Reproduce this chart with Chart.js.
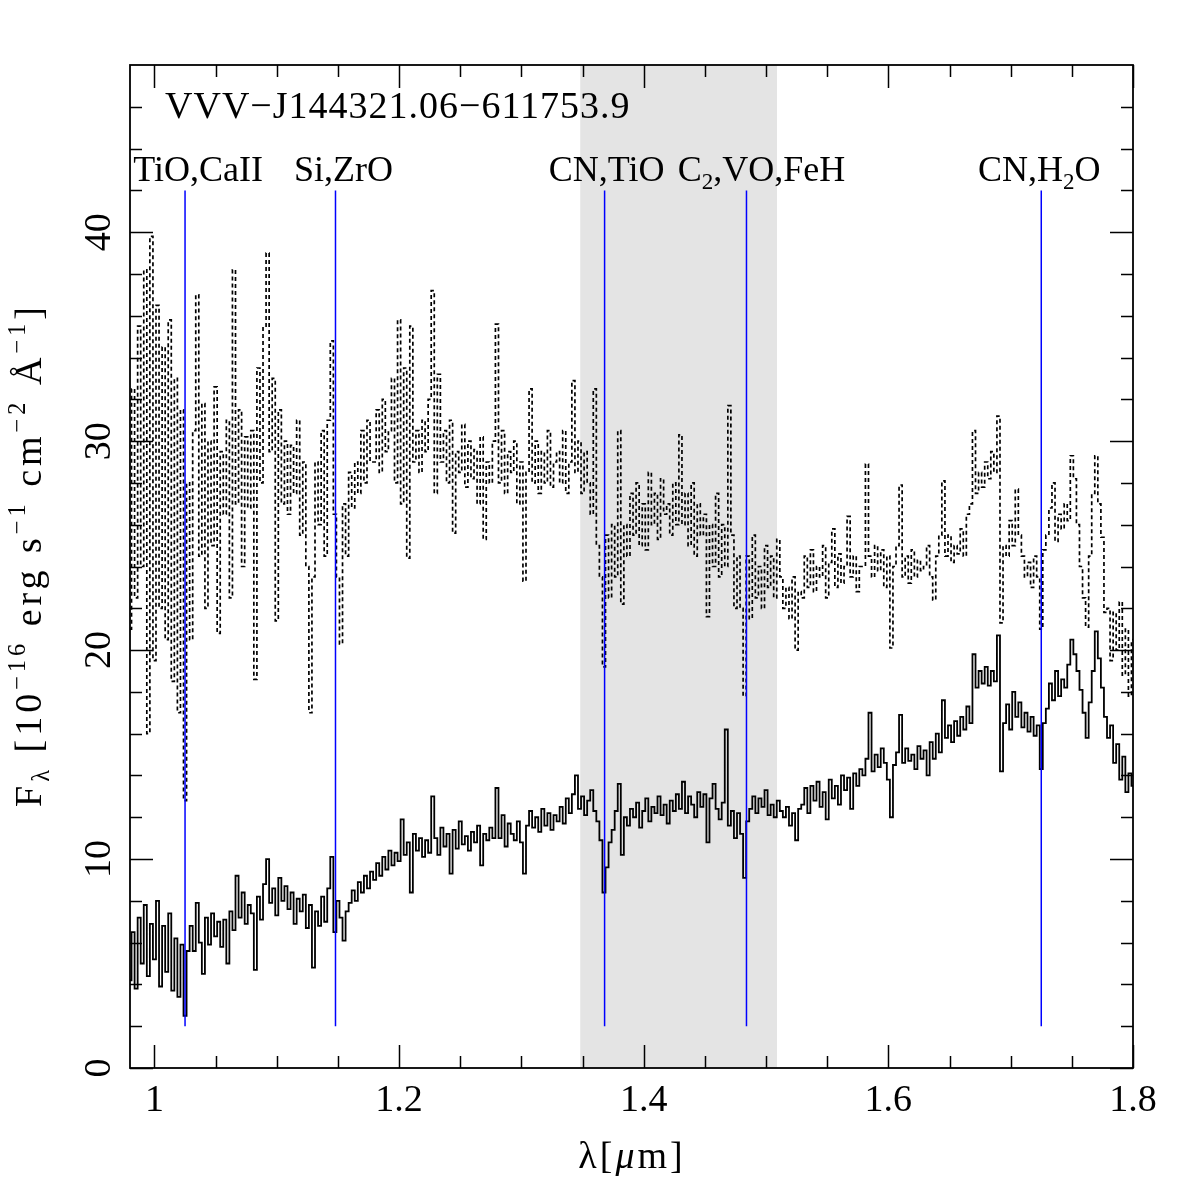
<!DOCTYPE html>
<html><head><meta charset="utf-8">
<script src="https://cdn.jsdelivr.net/npm/chart.js@4/dist/chart.umd.min.js"></script>
<style>html,body{margin:0;padding:0;background:#fff;}canvas{display:block;}</style>
</head><body>
<canvas id="c" width="1196" height="1196"></canvas>
<script>
// wavelength grid [micron]
const wavelength = [
0.98,0.9825,0.985,0.9875,0.99,0.9925,0.995,0.9975,1.0,1.0025,1.005,1.0075,1.01,1.0125,1.015,1.0175,1.02,1.0225,1.025,1.0275,
1.03,1.0325,1.035,1.0375,1.04,1.0425,1.045,1.0475,1.05,1.0525,1.055,1.0575,1.06,1.0625,1.065,1.0675,1.07,1.0725,1.075,1.0775,
1.08,1.0825,1.085,1.0875,1.09,1.0925,1.095,1.0975,1.1,1.1025,1.105,1.1075,1.11,1.1125,1.115,1.1175,1.12,1.1225,1.125,1.1275,
1.13,1.1325,1.135,1.1375,1.14,1.1425,1.145,1.1475,1.15,1.1525,1.155,1.1575,1.16,1.1625,1.165,1.1675,1.17,1.1725,1.175,1.1775,
1.18,1.1825,1.185,1.1875,1.19,1.1925,1.195,1.1975,1.2,1.2025,1.205,1.2075,1.21,1.2125,1.215,1.2175,1.22,1.2225,1.225,1.2275,
1.23,1.2325,1.235,1.2375,1.24,1.2425,1.245,1.2475,1.25,1.2525,1.255,1.2575,1.26,1.2625,1.265,1.2675,1.27,1.2725,1.275,1.2775,
1.28,1.2825,1.285,1.2875,1.29,1.2925,1.295,1.2975,1.3,1.3025,1.305,1.3075,1.31,1.3125,1.315,1.3175,1.32,1.3225,1.325,1.3275,
1.33,1.3325,1.335,1.3375,1.34,1.3425,1.345,1.3475,1.35,1.3525,1.355,1.3575,1.36,1.3625,1.365,1.3675,1.37,1.3725,1.375,1.3775,
1.38,1.3825,1.385,1.3875,1.39,1.3925,1.395,1.3975,1.4,1.4025,1.405,1.4075,1.41,1.4125,1.415,1.4175,1.42,1.4225,1.425,1.4275,
1.43,1.4325,1.435,1.4375,1.44,1.4425,1.445,1.4475,1.45,1.4525,1.455,1.4575,1.46,1.4625,1.465,1.4675,1.47,1.4725,1.475,1.4775,
1.48,1.4825,1.485,1.4875,1.49,1.4925,1.495,1.4975,1.5,1.5025,1.505,1.5075,1.51,1.5125,1.515,1.5175,1.52,1.5225,1.525,1.5275,
1.53,1.5325,1.535,1.5375,1.54,1.5425,1.545,1.5475,1.55,1.5525,1.555,1.5575,1.56,1.5625,1.565,1.5675,1.57,1.5725,1.575,1.5775,
1.58,1.5825,1.585,1.5875,1.59,1.5925,1.595,1.5975,1.6,1.6025,1.605,1.6075,1.61,1.6125,1.615,1.6175,1.62,1.6225,1.625,1.6275,
1.63,1.6325,1.635,1.6375,1.64,1.6425,1.645,1.6475,1.65,1.6525,1.655,1.6575,1.66,1.6625,1.665,1.6675,1.67,1.6725,1.675,1.6775,
1.68,1.6825,1.685,1.6875,1.69,1.6925,1.695,1.6975,1.7,1.7025,1.705,1.7075,1.71,1.7125,1.715,1.7175,1.72,1.7225,1.725,1.7275,
1.73,1.7325,1.735,1.7375,1.74,1.7425,1.745,1.7475,1.75,1.7525,1.755,1.7575,1.76,1.7625,1.765,1.7675,1.77,1.7725,1.775,1.7775,
1.78,1.7825,1.785,1.7875,1.79,1.7925,1.795,1.7975,1.8
];
// observed flux (solid line)
const fluxSolid = [
4.2,6.5,3.8,7.2,5.0,7.8,4.4,6.9,5.2,8.0,3.9,6.8,4.6,7.4,3.7,6.2,3.4,5.9,2.5,5.6,
6.8,5.6,7.9,6.0,4.5,7.2,5.9,7.4,6.3,7.0,5.8,7.1,5.0,7.5,6.6,9.2,7.2,8.4,6.9,7.8,
7.4,4.7,8.2,7.1,8.8,10.0,7.9,8.6,7.3,9.1,8.0,8.7,7.6,8.4,6.9,8.1,7.5,8.3,6.7,7.8,
4.8,7.5,6.8,8.2,7.0,8.6,10.1,6.5,8.0,7.2,6.1,7.5,7.9,8.5,8.0,8.9,8.4,9.2,8.6,9.4,
9.0,9.8,9.2,10.1,9.5,10.4,9.7,10.3,9.9,11.9,10.2,10.8,8.4,11.2,10.4,11.0,10.1,10.9,10.3,13.0,
11.0,10.2,11.5,10.6,11.2,9.3,11.4,10.5,11.8,10.7,11.1,10.4,11.3,10.8,11.6,9.7,11.2,10.9,11.5,11.0,
13.4,11.0,12.1,10.6,11.7,11.2,10.9,11.8,10.8,9.3,11.6,12.3,11.5,12.0,11.3,12.4,11.6,12.2,11.4,12.1,
11.8,12.5,11.7,12.9,12.2,13.1,14.0,12.4,13.0,12.1,12.8,13.3,12.3,11.8,10.9,8.4,9.6,10.8,11.4,12.3,
13.6,10.2,12.0,11.6,12.4,12.0,12.7,11.5,12.3,12.9,11.8,12.5,12.2,13.0,12.1,12.6,11.7,12.8,12.3,13.1,
12.4,13.7,12.2,13.0,12.6,12.0,13.2,12.5,13.1,10.8,12.9,13.6,12.4,11.9,12.7,16.2,11.6,12.3,11.0,12.2,
11.2,9.1,11.8,12.4,13.0,12.2,12.9,12.5,13.3,12.1,12.6,12.0,12.8,12.3,12.0,12.5,11.6,12.2,10.9,12.4,
12.6,13.4,12.2,13.5,12.8,13.7,12.5,13.2,11.9,13.8,12.9,13.5,12.6,14.0,13.3,13.9,12.4,14.1,13.5,14.3,
14.0,14.8,17.0,14.2,15.0,14.4,15.3,14.6,13.8,12.0,14.5,15.1,16.9,14.6,15.3,14.7,15.0,14.3,15.4,14.8,
15.2,14.0,15.6,14.8,16.0,15.1,17.6,15.8,16.4,15.6,16.6,15.9,16.8,16.2,17.3,16.5,19.8,18.2,19.0,18.4,
19.2,18.3,19.0,18.5,20.7,14.2,16.5,17.4,16.2,18.0,16.8,17.5,16.3,17.0,16.1,16.8,15.9,16.4,14.3,16.5,
17.2,18.4,17.6,19.0,17.8,18.6,18.2,19.3,20.5,19.8,19.0,18.1,17.0,15.8,17.5,19.0,20.9,19.6,18.2,16.8,
15.8,16.4,14.6,15.5,13.8,14.9,13.2,14.1,13.5
];
// dereddened flux (dashed line)
const fluxDotted = [
21.0,32.5,22.5,35.5,24.0,38.2,16.0,39.8,19.5,36.5,22.0,34.5,20.5,35.8,18.5,33.0,17.0,31.5,12.8,28.0,
20.5,30.5,37.0,24.5,31.8,22.0,30.0,25.0,32.6,20.8,29.5,26.5,31.0,22.5,38.2,27.0,31.5,24.0,30.2,26.8,
30.5,18.6,33.5,28.0,35.5,39.0,29.5,33.0,21.4,31.5,27.0,30.0,26.5,29.8,27.5,31.0,25.5,29.0,24.0,17.0,
23.5,29.0,26.0,30.5,24.5,31.0,34.8,26.5,23.5,20.3,27.0,24.5,28.5,26.8,29.0,27.5,30.5,28.0,31.0,29.0,
29.0,31.5,28.5,32.0,29.5,30.5,33.0,28.0,35.8,27.0,33.5,24.4,35.5,29.0,30.5,28.5,31.0,29.5,32.0,37.2,
27.5,33.2,29.0,30.5,28.0,31.0,25.6,29.5,28.5,30.8,27.8,30.0,28.2,29.6,27.0,30.2,25.3,29.0,28.0,30.0,
35.6,28.0,30.5,27.5,29.5,28.5,30.0,27.0,29.0,23.3,28.5,32.5,28.0,30.0,27.5,29.5,28.0,30.5,27.8,29.0,
29.5,28.0,30.5,27.5,29.0,32.9,28.5,30.0,27.5,29.5,28.0,26.5,32.5,25.0,23.5,19.2,25.5,22.5,26.0,23.5,
30.5,22.2,26.0,24.5,27.5,25.5,28.0,25.0,27.0,24.8,28.5,26.0,27.5,25.3,28.2,26.5,27.0,25.5,28.0,26.0,
30.3,26.0,27.5,25.0,28.0,24.5,27.0,25.5,26.5,21.6,26.0,24.0,27.5,23.5,26.0,24.0,31.7,25.5,22.0,24.5,
22.0,17.8,24.5,21.5,25.5,22.5,24.0,22.0,25.0,23.0,24.5,22.5,25.3,23.5,22.0,23.0,21.5,23.5,20.0,22.8,
22.5,24.5,23.0,24.8,22.8,24.0,23.5,25.0,22.5,24.2,25.8,23.0,24.6,23.2,24.0,26.4,23.5,24.5,22.8,24.0,
24.0,28.9,24.5,23.5,25.0,23.8,24.8,23.0,24.5,20.1,24.0,25.0,27.9,23.5,24.5,23.2,24.8,23.5,24.3,23.8,
24.0,25.0,23.5,22.4,24.5,25.5,28.1,24.5,25.5,24.2,25.0,24.6,25.8,24.5,26.5,27.0,30.5,27.5,28.5,27.8,
29.0,28.2,29.5,28.5,31.2,21.3,25.0,24.5,26.2,25.0,27.7,25.5,24.5,23.5,24.2,23.0,24.5,23.5,21.0,24.8,
25.5,26.8,28.0,25.2,26.5,25.8,27.0,26.2,29.3,28.2,26.0,24.0,22.5,21.1,24.5,27.5,29.3,27.0,25.4,21.8,
22.0,19.5,21.8,20.0,22.3,18.8,21.0,17.8,20.5
];
const featureNames = [
  [{t:'TiO,CaII'}],
  [{t:'Si,ZrO'}],
  [{t:'CN,TiO'}],
  [{t:'C'},{t:'2',sub:true},{t:',VO,FeH'}],
  [{t:'CN,H'},{t:'2',sub:true},{t:'O'}]
];
const featureWavelengths = [1.025, 1.148, 1.368, 1.484, 1.725];
const featureSpan = [2, 42];
const shadedBand = [1.348, 1.509];
const xTickLabels = [1.0, 1.2, 1.4, 1.6, 1.8];
const yTickLabels = [0, 10, 20, 30, 40];
const objectName = 'VVV\u2212J144321.06\u2212611753.9';

const SERIF = '"Liberation Serif","DejaVu Serif",serif';

function richWidth(ctx, parts, size){
  let w = 0;
  for (const p of parts){
    const s = p.sup || p.sub ? size*0.64 : size;
    ctx.font = (p.italic?'italic ':'') + s + 'px ' + SERIF;
    w += ctx.measureText(p.t).width;
  }
  return w;
}
function drawRich(ctx, parts, x, y, size){
  let cx = x;
  for (const p of parts){
    const s = p.sup || p.sub ? size*0.64 : size;
    ctx.font = (p.italic?'italic ':'') + s + 'px ' + SERIF;
    const dy = p.sup ? -size*0.42 : (p.sub ? size*0.22 : 0);
    ctx.fillText(p.t, cx, y + dy);
    cx += ctx.measureText(p.t).width;
  }
}

const decor = {
  id: 'decor',
  afterDraw(chart){
    const {ctx, chartArea:a, scales:{x, y}} = chart;
    ctx.save();
    ctx.strokeStyle = '#000';
    ctx.fillStyle = '#000';
    ctx.lineWidth = 1.5;
    ctx.beginPath();
    for (let k = 0; k <= 16; k++){
      const v = 1.0 + 0.05*k;
      const px = Math.round(x.getPixelForValue(v)) + 0.5;
      const L = (k % 4 === 0) ? 23 : 12;
      ctx.moveTo(px, a.bottom); ctx.lineTo(px, a.bottom - L);
      ctx.moveTo(px, a.top); ctx.lineTo(px, a.top + L);
    }
    for (let v = 0; v < 48; v += 2){
      const py = Math.round(y.getPixelForValue(v)) + 0.5;
      const L = (v % 10 === 0) ? 23 : 12;
      ctx.moveTo(a.left, py); ctx.lineTo(a.left + L, py);
      ctx.moveTo(a.right, py); ctx.lineTo(a.right - L, py);
    }
    ctx.stroke();
    ctx.lineWidth = 1.8;
    ctx.strokeRect(a.left, a.top, a.right - a.left, a.bottom - a.top);

    const FS = 38;
    // x tick labels
    ctx.font = FS + 'px ' + SERIF;
    ctx.textAlign = 'center';
    ctx.textBaseline = 'alphabetic';
    for (const v of xTickLabels){
      ctx.fillText(String(v === 1 ? 1 : v), x.getPixelForValue(v), 1111);
    }
    // y tick labels (rotated)
    for (const v of yTickLabels){
      ctx.save();
      ctx.translate(110, y.getPixelForValue(v));
      ctx.rotate(-Math.PI/2);
      ctx.textAlign = 'center';
      ctx.font = FS + 'px ' + SERIF;
      ctx.fillText(String(v), 0, 0);
      ctx.restore();
    }
    ctx.textAlign = 'left';
    // x title
    ctx.letterSpacing = '3px';
    const xt = [{t:'\u03bb['},{t:'\u03bc',italic:true},{t:'m]'}];
    const xw = richWidth(ctx, xt, FS);
    drawRich(ctx, xt, 632 - xw/2, 1168, FS);
    // y title
    ctx.letterSpacing = '4px';
    const yt = [{t:'F'},{t:'\u03bb',sub:true},{t:' [10'},{t:'\u221216',sup:true},{t:' erg s'},{t:'\u22121',sup:true},
                {t:' cm'},{t:'\u22122',sup:true},{t:' \u00c5'},{t:'\u22121',sup:true},{t:']'}];
    const yw = richWidth(ctx, yt, FS);
    ctx.save();
    ctx.translate(41, 555);
    ctx.rotate(-Math.PI/2);
    drawRich(ctx, yt, -yw/2, 0, FS);
    ctx.restore();
    // object name
    ctx.letterSpacing = '1px';
    ctx.font = FS + 'px ' + SERIF;
    ctx.fillText(objectName, 165, 118);
    ctx.letterSpacing = '0px';
    // feature labels
    const shifts = [13, 8, 2, 15, -2];
    featureNames.forEach((parts, i) => {
      const w = richWidth(ctx, parts, 36);
      const cx = x.getPixelForValue(featureWavelengths[i]) + shifts[i];
      drawRich(ctx, parts, cx - w/2, 181, 36);
    });
    ctx.restore();
  }
};

const datasets = [
  {data: shadedBand.map(v => ({x: v, y: 48})), fill: 'start', backgroundColor: '#e4e4e4',
   borderColor: 'rgba(0,0,0,0)', borderWidth: 1, pointRadius: 0, order: 10},
  {data: wavelength.map((w, i) => ({x: w, y: fluxDotted[i]})), borderColor: '#000', borderWidth: 1.7,
   borderDash: [4, 3], pointRadius: 0, fill: false, stepped: 'middle', order: 5},
  {data: wavelength.map((w, i) => ({x: w, y: fluxSolid[i]})), borderColor: '#000', borderWidth: 1.8,
   pointRadius: 0, fill: false, stepped: 'middle', order: 4}
];
featureWavelengths.forEach(w => datasets.push({
  data: [{x: w, y: featureSpan[0]}, {x: w, y: featureSpan[1]}], borderColor: '#0000ff', borderWidth: 1.5,
  pointRadius: 0, fill: false, order: 1
}));

new Chart(document.getElementById('c'), {
  type: 'line',
  data: {datasets},
  options: {
    responsive: false, animation: false, devicePixelRatio: 1,
    layout: {padding: {left: 130, right: 63, top: 65, bottom: 128}},
    plugins: {legend: {display: false}, tooltip: {enabled: false}},
    elements: {line: {tension: 0}},
    scales: {
      x: {type: 'linear', min: 0.98, max: 1.8, display: false},
      y: {type: 'linear', min: 0, max: 48, display: false}
    }
  },
  plugins: [decor]
});
</script>
</body></html>
